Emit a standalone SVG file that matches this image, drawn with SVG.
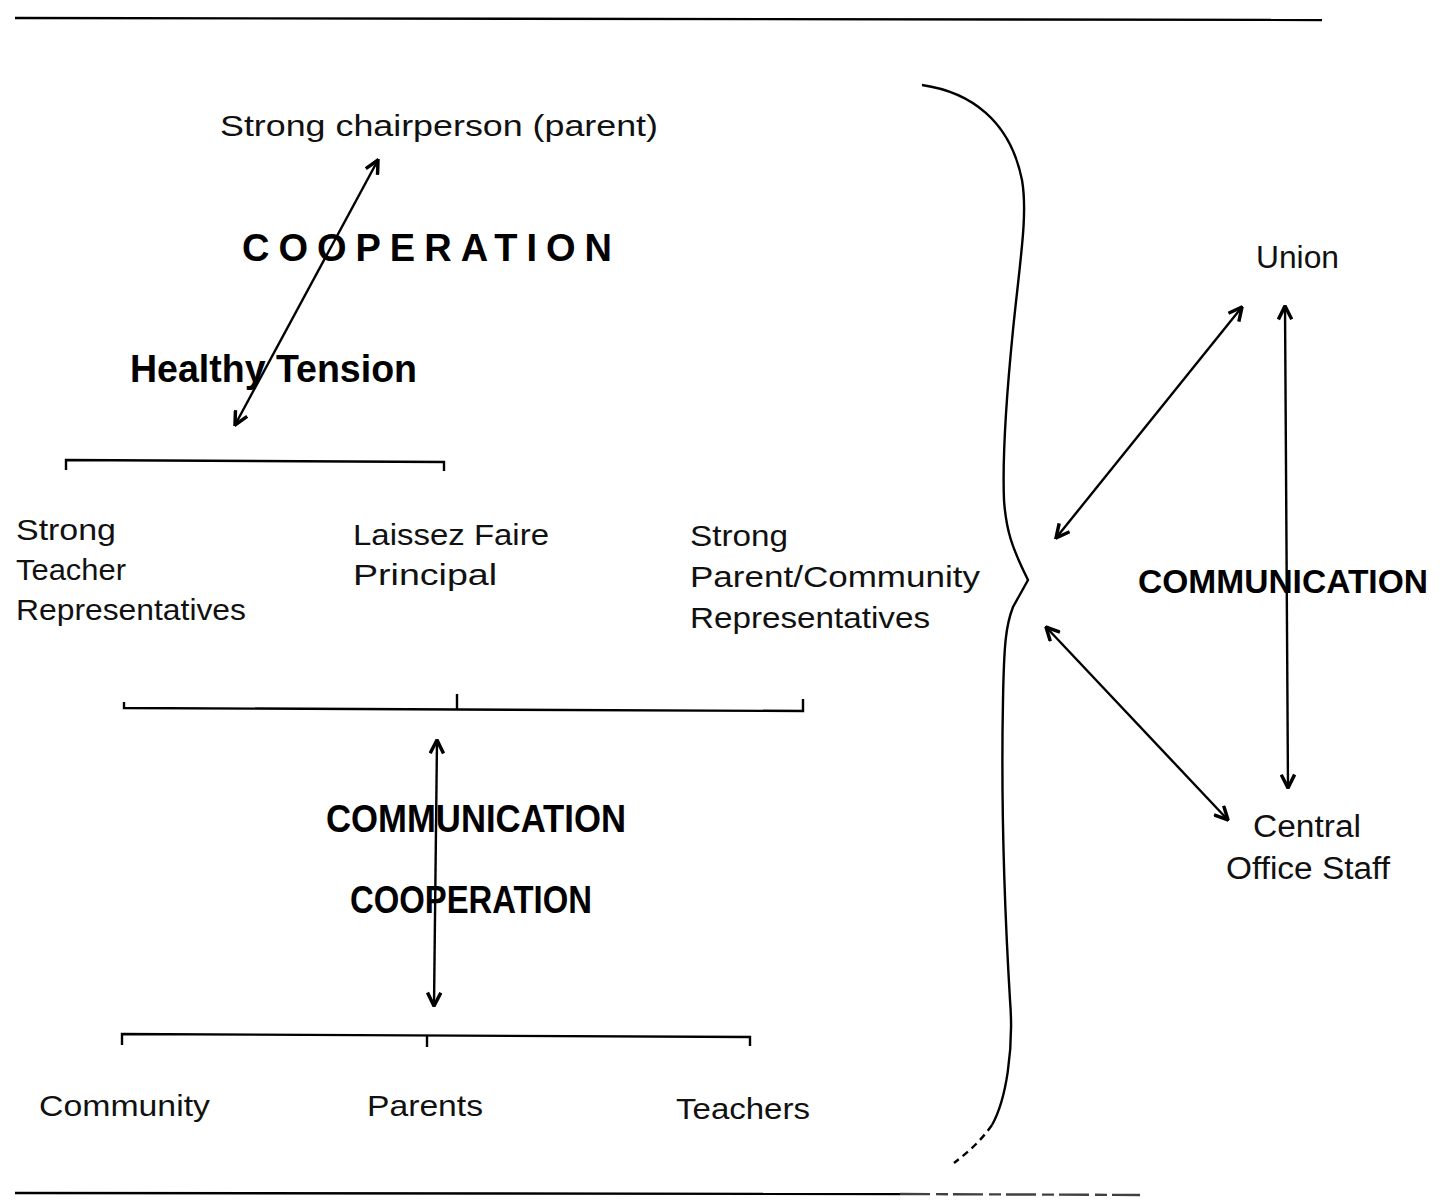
<svg xmlns="http://www.w3.org/2000/svg" width="1443" height="1202" viewBox="0 0 1443 1202">
<defs>
<style>
.t{font-family:"Liberation Sans",Arial,sans-serif;font-size:30px;fill:#111}
.r{font-family:"Liberation Sans",Arial,sans-serif;font-size:31px;fill:#111}
.b{font-family:"Liberation Sans",Arial,sans-serif;font-size:38px;font-weight:bold;fill:#000}
.w{font-family:"Liberation Sans",Arial,sans-serif;font-size:34px;font-weight:bold;fill:#000}
.ln{fill:none;stroke:#000;stroke-width:2.4}
.ar{fill:none;stroke:#000;stroke-width:2.4;marker-start:url(#ah);marker-end:url(#ah)}
</style>
<marker id="ah" viewBox="0 0 12 12" refX="11" refY="6" markerWidth="16" markerHeight="16" markerUnits="userSpaceOnUse" orient="auto-start-reverse">
<path d="M1,1 L11,6 L1,11" fill="none" stroke="#000" stroke-width="2.6"/>
</marker>
</defs>
<rect width="1443" height="1202" fill="#fff"/>

<g id="rules">
<path class="ln" d="M15,18 L1322,20" stroke-width="3"/>
<path class="ln" d="M15,1193 L900,1194" stroke-width="3"/>
<path class="ln" d="M900,1194 L1140,1195" stroke-width="3" stroke-dasharray="30 6 12 5" opacity="0.75"/>
</g>

<g id="brace">
<path class="ln" d="M922,85 C970,92 1010,120 1022,180 C1028,215 1020,260 1013,330 C1007,390 1002,450 1004,500 C1006,530 1012,548 1028,580 L1013,607 C1006,625 1004,643 1003,700 C1001,800 1004,900 1010,1000 C1014,1050 1006,1100 992,1125"/>
<path class="ln" d="M992,1125 C980,1142 968,1152 954,1163" stroke-dasharray="7 5" stroke-width="1.8"/>
</g>

<g id="connectors">
<path class="ln" d="M66,470 L66,460 L444,462 L444,471"/>
<path class="ln" d="M124,702 L124,708 L803,711 L803,699"/>
<path class="ln" d="M457,694 L457,709"/>
<path class="ln" d="M122,1045 L122,1034 L750,1037 L750,1046"/>
<path class="ln" d="M427,1036 L427,1047"/>
<path class="ar" d="M378,160 L235,425"/>
<path class="ar" d="M437,740 L434,1006"/>
<path class="ar" d="M1242,307 L1056,538"/>
<path class="ar" d="M1285,306 L1288,788"/>
<path class="ar" d="M1046,627 L1228,820"/>
</g>

<g id="chair"><text class="t" x="220" y="136" textLength="438" lengthAdjust="spacingAndGlyphs">Strong chairperson (parent)</text></g>
<g id="lbl-cooperation-top"><text class="b" x="242" y="261" textLength="370" lengthAdjust="spacing">COOPERATION</text></g>
<g id="lbl-tension"><text class="b" x="130" y="382" textLength="287" lengthAdjust="spacingAndGlyphs">Healthy Tension</text></g>

<g id="teachers-rep">
<text class="t" x="16" y="540" textLength="100" lengthAdjust="spacingAndGlyphs">Strong</text>
<text class="t" x="16" y="580" textLength="110" lengthAdjust="spacingAndGlyphs">Teacher</text>
<text class="t" x="16" y="620" textLength="230" lengthAdjust="spacingAndGlyphs">Representatives</text>
</g>
<g id="principal">
<text class="t" x="353" y="545" textLength="196" lengthAdjust="spacingAndGlyphs">Laissez Faire</text>
<text class="t" x="353" y="585" textLength="144" lengthAdjust="spacingAndGlyphs">Principal</text>
</g>
<g id="parent-rep">
<text class="t" x="690" y="546" textLength="98" lengthAdjust="spacingAndGlyphs">Strong</text>
<text class="t" x="690" y="587" textLength="290" lengthAdjust="spacingAndGlyphs">Parent/Community</text>
<text class="t" x="690" y="628" textLength="240" lengthAdjust="spacingAndGlyphs">Representatives</text>
</g>

<g id="lbl-mid">
<text class="b" x="326" y="832" textLength="300" lengthAdjust="spacingAndGlyphs">COMMUNICATION</text>
<text class="b" x="350" y="913" textLength="242" lengthAdjust="spacingAndGlyphs">COOPERATION</text>
</g>

<g id="community"><text class="t" x="39" y="1116" textLength="171" lengthAdjust="spacingAndGlyphs">Community</text></g>
<g id="parents"><text class="t" x="367" y="1116" textLength="116" lengthAdjust="spacingAndGlyphs">Parents</text></g>
<g id="teachers"><text class="t" x="676" y="1119" textLength="134" lengthAdjust="spacingAndGlyphs">Teachers</text></g>

<g id="union"><text class="r" x="1256" y="268" textLength="83" lengthAdjust="spacingAndGlyphs">Union</text></g>
<g id="central-office">
<text class="r" x="1253" y="837" textLength="108" lengthAdjust="spacingAndGlyphs">Central</text>
<text class="r" x="1226" y="879" textLength="164" lengthAdjust="spacingAndGlyphs">Office Staff</text>
</g>
<g id="lbl-right"><text class="w" x="1138" y="593" textLength="290" lengthAdjust="spacingAndGlyphs">COMMUNICATION</text></g>
</svg>
